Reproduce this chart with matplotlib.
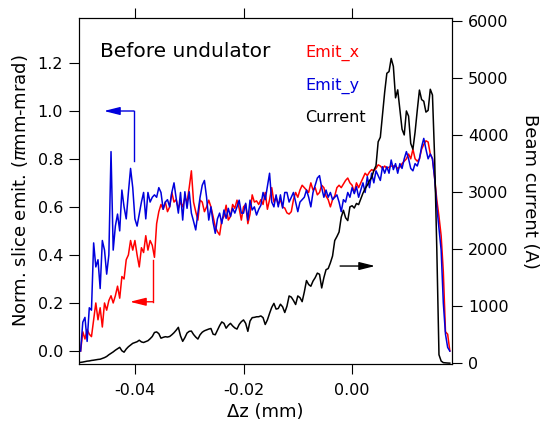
import numpy as np
import matplotlib.pyplot as plt

plt.rcParams['font.family'] = 'DejaVu Sans'
plt.rcParams['axes.unicode_minus'] = False

# slice grid (mm)
z_start = -0.0500
z_step = 0.0004

emit_x = [0.00, 0.08, 0.05, 0.09, 0.07, 0.06, 0.13, 0.20, 0.13, 0.18,
          0.10, 0.20, 0.17, 0.21, 0.23, 0.20, 0.23, 0.27, 0.22, 0.31,
          0.30, 0.38, 0.40, 0.46, 0.42, 0.46, 0.40, 0.35, 0.43, 0.41,
          0.48, 0.42, 0.46, 0.44, 0.39, 0.53, 0.58, 0.61, 0.59, 0.62,
          0.58, 0.60, 0.66, 0.62, 0.63, 0.594, 0.62, 0.60, 0.64, 0.62,
          0.68, 0.75, 0.62, 0.58, 0.545, 0.628, 0.62, 0.58, 0.60, 0.628,
          0.60, 0.56, 0.517, 0.497, 0.483, 0.545, 0.56, 0.607, 0.545, 0.56,
          0.61, 0.594, 0.628, 0.594, 0.545, 0.60, 0.61, 0.53, 0.57, 0.65,
          0.62, 0.625, 0.61, 0.63, 0.61, 0.66, 0.59, 0.63, 0.68, 0.62,
          0.64, 0.61, 0.63, 0.60, 0.595, 0.575, 0.57, 0.58, 0.63, 0.66,
          0.64, 0.67, 0.69, 0.68, 0.67, 0.66, 0.70, 0.67, 0.68, 0.65,
          0.66, 0.69, 0.68, 0.645, 0.63, 0.60, 0.63, 0.645, 0.68, 0.69,
          0.68, 0.695, 0.71, 0.72, 0.70, 0.69, 0.66, 0.70, 0.68, 0.70,
          0.72, 0.74, 0.73, 0.745, 0.755, 0.75, 0.76, 0.775, 0.77, 0.76,
          0.77, 0.76, 0.765, 0.77, 0.77, 0.77, 0.76, 0.765, 0.78, 0.79,
          0.80, 0.82, 0.80, 0.84, 0.80, 0.79, 0.80, 0.84, 0.86, 0.875,
          0.87, 0.82, 0.80, 0.72, 0.63, 0.56, 0.48, 0.33, 0.08, 0.07,
          0.00]

emit_y = [0.00, 0.12, 0.14, 0.04, 0.18, 0.17, 0.45, 0.35, 0.38, 0.26,
          0.46, 0.42, 0.32, 0.40, 0.83, 0.42, 0.52, 0.57, 0.50, 0.67,
          0.60, 0.55, 0.66, 0.76, 0.68, 0.55, 0.52, 0.57, 0.62, 0.66,
          0.55, 0.66, 0.62, 0.64, 0.65, 0.64, 0.68, 0.66, 0.59, 0.62,
          0.63, 0.60, 0.66, 0.70, 0.635, 0.574, 0.66, 0.545, 0.663, 0.594,
          0.663, 0.574, 0.54, 0.504, 0.574, 0.64, 0.69, 0.71, 0.64, 0.545,
          0.60, 0.535, 0.49, 0.55, 0.574, 0.53, 0.587, 0.552, 0.594, 0.56,
          0.594, 0.574, 0.60, 0.628, 0.574, 0.574, 0.615, 0.545, 0.628, 0.587,
          0.60, 0.566, 0.59, 0.607, 0.66, 0.63, 0.684, 0.74, 0.62, 0.60,
          0.65, 0.60, 0.65, 0.595, 0.66, 0.66, 0.62, 0.64, 0.66, 0.62,
          0.58, 0.62, 0.63, 0.64, 0.67, 0.64, 0.60, 0.66, 0.69, 0.72,
          0.73, 0.68, 0.64, 0.67, 0.64, 0.66, 0.63, 0.64, 0.65, 0.62,
          0.58, 0.63, 0.62, 0.66, 0.64, 0.68, 0.655, 0.684, 0.64, 0.67,
          0.70, 0.66, 0.726, 0.68, 0.74, 0.70, 0.75, 0.73, 0.71, 0.767,
          0.74, 0.767, 0.74, 0.795, 0.755, 0.78, 0.74, 0.78, 0.76, 0.80,
          0.83, 0.80, 0.76, 0.75, 0.78, 0.77, 0.80, 0.85, 0.885, 0.84,
          0.80, 0.82, 0.80, 0.72, 0.60, 0.51, 0.42, 0.20, 0.07, 0.015,
          0.00]

current = [17, 22, 30, 38, 42, 50, 55, 62, 68, 72,
           85, 100, 120, 150, 175, 200, 230, 255, 280, 220,
           195, 250, 290, 320, 350, 365, 378, 405, 375, 365,
           380, 396, 430, 470, 540, 550, 520, 440, 455, 466,
           460, 470, 500, 536, 580, 630, 480, 385, 450, 530,
           560, 565, 505, 460, 425, 500, 545, 570, 585, 600,
           610, 510, 500, 580, 660, 725, 700, 615, 665, 700,
           655, 620, 600, 680, 729, 760, 700, 560, 740, 800,
           805, 815, 816, 830, 800, 680, 760, 875, 980, 1050,
           950, 960, 1035, 990, 890, 1000, 1180, 1160, 1100, 1030,
           1180, 1150, 1080, 1250, 1450, 1380, 1350, 1440, 1500, 1580,
           1560, 1320, 1500, 1640, 1660, 1760, 1880, 2150, 2220, 2300,
           2560, 2680, 2550, 2500, 2740, 2760, 2720, 2800, 2780, 2880,
           2980, 3060, 3120, 3200, 3250, 3380, 3460, 3880, 3960, 4350,
           4750, 5080, 5110, 5340, 5200, 4650, 4790, 4450, 4100, 4000,
           4420, 4330, 3850, 3750, 4050, 4430, 4786, 4620, 4590, 4400,
           4430, 4800, 4700, 3600, 2000, 150, 40, 12, 8, 5,
           3]

z = z_start + z_step * np.arange(len(current))

red = '#ff0000'
blue = '#0000dd'
head = '-|>,head_length=0.8,head_width=0.2'

fig = plt.figure(figsize=(5.41, 4.24), dpi=100)
ax = fig.add_axes([0.146, 0.1415, 0.6895, 0.816])
ax.plot(z, emit_x, color=red, lw=1.1)
ax.plot(z, emit_y, color=blue, lw=1.1)
ax.set_xlim(-0.0503, 0.0184)
ax.set_ylim(-0.054, 1.386)
ax.set_xticks([-0.04, -0.02, 0.00])
ax.set_xticklabels(['-0.04', '-0.02', '0.00'])
ax.set_yticks([0.0, 0.2, 0.4, 0.6, 0.8, 1.0, 1.2])
ax.set_yticklabels(['0.0', '0.2', '0.4', '0.6', '0.8', '1.0', '1.2'])
ax.tick_params(axis='both', direction='out', length=7.5, width=0.8,
               labelsize=11.5, pad=4)
ax.tick_params(axis='x', top=True, pad=6)
ax.set_xlabel('Δz (mm)', fontsize=13, labelpad=4)
ax.set_ylabel(r'Norm. slice emit. ($\pi$mm-mrad)', fontsize=13)
ax.yaxis.set_label_coords(-0.13, 0.5)

# arrows pointing to the axes
ax.plot([-0.04018, -0.04018], [0.79, 0.999], color=blue, lw=1.0)
ax.annotate('', xy=(-0.04571, 0.999), xytext=(-0.04018, 0.999),
            arrowprops=dict(arrowstyle=head, color=blue, lw=1.0,
                            mutation_scale=12, shrinkA=0, shrinkB=0))
ax.plot([-0.03663, -0.03663], [0.38, 0.205], color=red, lw=1.0)
ax.annotate('', xy=(-0.04092, 0.205), xytext=(-0.03663, 0.205),
            arrowprops=dict(arrowstyle=head, color=red, lw=1.0,
                            mutation_scale=12, shrinkA=0, shrinkB=0))

ax.text(-0.04645, 1.245, 'Before undulator', fontsize=14.5, va='center')
ax.text(-0.00866, 1.240, 'Emit_x', color=red, fontsize=11.5, va='center')
ax.text(-0.00866, 1.103, 'Emit_y', color=blue, fontsize=11.5, va='center')
ax.text(-0.00866, 0.970, 'Current', color='black', fontsize=11.5, va='center')

ax2 = ax.twinx()
ax2.plot(z, current, color='black', lw=1.1)
ax2.set_ylim(-12, 6048)
ax2.set_yticks([0, 1000, 2000, 3000, 4000, 5000, 6000])
ax2.tick_params(axis='y', direction='out', length=7.5, width=0.8,
                labelsize=11.5, pad=4)
ax2.set_ylabel('Beam current (A)', fontsize=13, rotation=270, va='bottom')
ax2.yaxis.set_label_coords(1.185, 0.5)
ax2.annotate('', xy=(0.00424, 1704), xytext=(-0.00221, 1704),
             arrowprops=dict(arrowstyle=head, color='black', lw=1.0,
                             mutation_scale=12, shrinkA=0, shrinkB=0))

fig.savefig('out.png', dpi=100)
